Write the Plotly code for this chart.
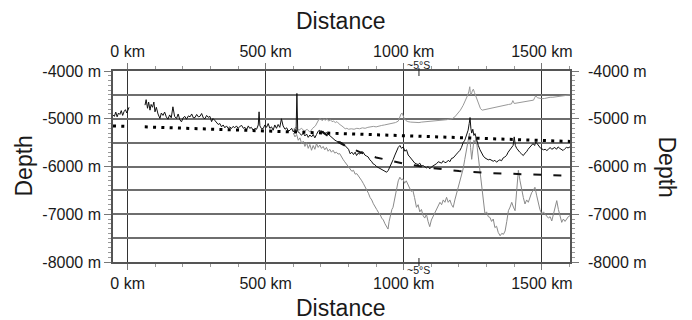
import plotly.graph_objects as go

# ---------------- data ----------------
profile_km = [-53, -48, -43, -38, -33, -28, -23, -18, -13, -8, -3, 2, 5, None,
              63, 67, 72, 76, 81, 85, 90, 95, 99, 104, 110, 117, 122, 128, 134, 140, 146, 152, 158, 164,
              170, 177, 183, 189, 195, 201, 207, 213, 220, 226, 232, 238, 244, 250, 256, 262, 268, 274,
              280, 286, 292, 298, 304, 309, 315, 321, 328, 334, 340, 346, 352, 358, 364, 370, 376, 382,
              388, 394, 400, 407, 413, 419, 425, 431, 437, 442, 448, 455, 461, 467, 473, 476, 479, 485,
              491, 497, 503, 509, 515, 521, 527, 533, 539, 545, 551, 557, 563, 570, 576, 582, 588, 594,
              600, 606, 610, 613, 616, 622, 630, 636, 642, 648, 654, 660, 666, 672, 678, 684, 690, 696,
              702, 708, 714, 720, 727, 733, 739, 745, 751, 757, 763, 769, 775, 781, 787, 793, 800, 806,
              812, 818, 824, 829, 835, 841, 847, 853, 859, 865, 871, 877, 883, 889, 895, 901, 907, 913,
              919, 925, 931, 938, 944, 950, 956, 962, 968, 974, 980, 986, 992, 998, 1004, 1010, 1016,
              1022, 1028, 1034, 1040, 1046, 1052, 1058, 1064, 1070, 1076, 1082, 1088, 1094, 1100, 1107,
              1113, 1119, 1125, 1131, 1137, 1143, 1149, 1155, 1161, 1167, 1173, 1179, 1185, 1191, 1197,
              1203, 1209, 1215, 1221, 1227, 1233, 1237, 1240, 1243, 1246, 1250, 1254, 1258, 1262, 1266,
              1270, 1276, 1282, 1288, 1294, 1300, 1306, 1312, 1318, 1324, 1330, 1336, 1342, 1348, 1354,
              1360, 1366, 1372, 1378, 1384, 1390, 1396, 1400, 1404, 1409, 1414, 1420, 1427, 1433, 1439,
              1445, 1450, 1456, 1462, 1468, 1474, 1478, 1484, 1490, 1496, 1500, 1506, 1512, 1518, 1524,
              1530, 1536, 1541, 1547, 1553, 1559, 1565, 1571, 1577, 1583, 1589, 1595, 1602]
profile_m = [-4920, -4950, -4860, -4960, -4880, -4910, -4830, -4930, -4850, -4810, -4880, -4790, -4760, None,
             -4715, -4600, -4780, -4650, -4820, -4700, -4760, -4650, -4855, -4760, -4900, -4995, -4880, -4930,
             -4860, -4960, -5010, -4920, -4980, -4750, -4950, -4995, -4900, -5020, -5065, -4980, -4950, -5010,
             -4940, -4960, -4900, -4980, -4975, -4910, -4960, -4950, -4890, -4980, -5000, -4930, -4970, -4950,
             -5060, -4995, -5030, -5065, -5120, -5100, -5170, -5130, -5190, -5150, -5200, -5170, -5205, -5160,
             -5190, -5150, -5200, -5160, -5140, -5200, -5180, -5230, -5150, -5200, -5180, -5240, -5200, -5220,
             -5130, -4855, -5150, -5210, -5205, -5130, -5180, -5100, -5200, -5170, -5240, -5130, -5200, -5120,
             -5180, -5000, -5150, -5220, -5190, -5260, -5240, -5200, -5275, -5220, -5260, -4470, -5260, -5300,
             -5345, -5300, -5360, -5320, -5390, -5340, -5380, -5330, -5400, -5330, -5260, -5240, -5280, -5260,
             -5310, -5290, -5330, -5345, -5390, -5420, -5450, -5470, -5490, -5480, -5500, -5520, -5560, -5600,
             -5640, -5735, -5700, -5750, -5700, -5770, -5720, -5740, -5690, -5700, -5760, -5780, -5800, -5860,
             -5890, -5945, -5960, -6000, -6020, -6050, -6070, -6090, -6100, -6120, -6080, -6010, -5945, -5850,
             -5760, -5665, -5600, -5560, -5620, -5590, -5680, -5650, -5760, -5800, -5850, -5890, -5930, -5945,
             -5960, -5930, -5990, -5980, -6010, -6030, -6000, -6050, -6010, -5990, -5960, -5940, -5900, -5910,
             -5930, -5880, -5920, -5910, -5870, -5900, -5830, -5820, -5770, -5740, -5700, -5665, -5600, -5500,
             -5450, -5350, -5240, -5100, -4975, -5200, -5300, -5220, -5350, -5310, -5400, -5480, -5560, -5650,
             -5735, -5780, -5820, -5840, -5860, -5850, -5875, -5890, -5870, -5910, -5880, -5860, -5880, -5820,
             -5800, -5770, -5700, -5650, -5590, -5560, -5380, -5560, -5620, -5665, -5700, -5740, -5770, -5720,
             -5690, -5640, -5600, -5560, -5520, -5560, -5485, -5530, -5580, -5620, -5630, -5650, -5640, -5665,
             -5640, -5600, -5640, -5620, -5600, -5640, -5590, -5620, -5650, -5665, -5630, -5600, -5610, -5590]

upper_km = [600, 610, 620, 630, 640, 650, 660, 670, 680, 686, 692, 698, 704, 710, 716, 722, 728, 734, 740,
            746, 752, 758, 764, 770, 776, 782, 788, 794, 800, 810, 820, 830, 840, 850, 860, 870, 880, 890,
            900, 910, 920, 930, 940, 950, 960, 970, 980, 986, 990, 994, 998, 1002, 1008, 1015, 1025, 1035,
            1045, 1055, 1065, 1075, 1085, 1095, 1105, 1115, 1125, 1135, 1145, 1155, 1165, 1175, 1185, 1195,
            1205, 1215, 1222, 1228, 1232, 1236, 1239, 1241, 1244, 1248, 1252, 1256, 1260, 1264, 1268, 1272,
            1278, 1284, 1292, 1300, 1310, 1320, 1330, 1340, 1350, 1360, 1370, 1380, 1390, 1395, 1400, 1410,
            1420, 1430, 1440, 1450, 1460, 1470, 1474, 1478, 1484, 1490, 1500, 1510, 1520, 1530, 1540, 1550,
            1560, 1570, 1580, 1590, 1602]
upper_m = [-5220, -5180, -5240, -5200, -5260, -5220, -5280, -5200, -5150, -5080, -5020, -5000, -5040, -5010,
           -5030, -5000, -5050, -5020, -5060, -5050, -5080, -5060, -5100, -5130, -5150, -5180, -5210, -5200,
           -5220, -5210, -5220, -5200, -5210, -5190, -5200, -5180, -5170, -5160, -5170, -5150, -5140, -5130,
           -5120, -5110, -5100, -5080, -5050, -4950, -4900, -4880, -4950, -5000, -5040, -5060, -5070, -5075,
           -5070, -5080, -5070, -5065, -5070, -5060, -5050, -5045, -5040, -5030, -5030, -5020, -5010, -5000,
           -4960, -4900, -4820, -4720, -4640, -4560, -4500, -4420, -4330, -4450, -4500, -4420, -4380, -4450,
           -4520, -4560, -4640, -4720, -4790, -4820, -4810, -4800, -4780, -4760, -4750, -4740, -4730, -4720,
           -4710, -4700, -4690, -4620, -4680, -4670, -4660, -4650, -4640, -4640, -4630, -4610, -4560, -4520,
           -4560, -4570, -4580, -4575, -4560, -4550, -4550, -4540, -4530, -4530, -4520, -4510, -4500]

lower_km = [600, 606, 612, 618, 624, 630, 636, 642, 648, 654, 660, 666, 672, 678, 684, 690, 696, 702, 708,
            714, 720, 726, 732, 738, 744, 750, 756, 762, 768, 774, 780, 786, 792, 798, 806, 812, 818, 824,
            830, 836, 842, 848, 854, 860, 866, 872, 878, 884, 890, 896, 902, 908, 914, 920, 926, 932, 938,
            943, 947, 952, 957, 961, 966, 970, 974, 980, 986, 992, 997, 1003, 1009, 1015, 1021, 1027, 1033,
            1039, 1046, 1052, 1058, 1064, 1070, 1076, 1082, 1088, 1094, 1100, 1106, 1113, 1119, 1125, 1131,
            1137, 1143, 1149, 1155, 1161, 1167, 1173, 1179, 1185, 1191, 1197, 1203, 1209, 1215, 1221, 1227,
            1233, 1238, 1242, 1246, 1250, 1254, 1258, 1262, 1266, 1270, 1276, 1282, 1288, 1294, 1300, 1306,
            1312, 1318, 1324, 1330, 1336, 1342, 1349, 1355, 1361, 1367, 1373, 1379, 1385, 1391, 1397, 1403,
            1409, 1415, 1421, 1427, 1433, 1439, 1445, 1451, 1457, 1463, 1469, 1475, 1481, 1487, 1493, 1500,
            1506, 1512, 1518, 1524, 1530, 1536, 1542, 1548, 1554, 1560, 1566, 1572, 1578, 1584, 1590, 1596,
            1602]
lower_m = [-5300, -5380, -5330, -5450, -5400, -5520, -5470, -5580, -5500, -5620, -5540, -5660, -5560, -5640,
           -5520, -5600, -5550, -5620, -5580, -5650, -5600, -5680, -5640, -5700, -5660, -5720, -5700, -5740,
           -5730, -5800, -5850, -5900, -5950, -6000, -6040, -6100, -6080, -6160, -6150, -6200, -6225, -6300,
           -6360, -6420, -6500, -6560, -6650, -6700, -6780, -6855, -6900, -6960, -7000, -7080, -7120, -7200,
           -7280, -7310, -7150, -7000, -6900, -6855, -6700, -6550, -6435, -6300, -6225, -6280, -6260, -6350,
           -6300, -6360, -6450, -6520, -6500, -6650, -6855, -6800, -6950, -6900, -7030, -7080, -7000, -7150,
           -7260, -7120, -7050, -6990, -6900, -6820, -6750, -6800, -6700, -6750, -6645, -6750, -6700, -6800,
           -6855, -6700, -6575, -6450, -6350, -6225, -6050, -5850, -5665, -5450, -5300, -5600, -5850, -5650,
           -5450, -5500, -5380, -5600, -5800, -6080, -6400, -6700, -6990, -6950, -7050, -7065, -7150, -7100,
           -7280, -7250, -7380, -7450, -7400, -7420, -7350, -7150, -6925, -6850, -6750, -6850, -6925, -6500,
           -6080, -6300, -6505, -6650, -6785, -6700, -6750, -6645, -6550, -6500, -6435, -6600, -6785, -6900,
           -6995, -6950, -7000, -7030, -7080, -7050, -7140, -7000, -6850, -6715, -6900, -7050, -7170, -7100,
           -7150, -7100, -7050, -7030]

dotted_km = [-53, -5, None, 62, 500, 1000, 1602]
dotted_m = [-5150, -5160, None, -5170, -5250, -5355, -5475]

dashed_km = [700, 750, 800, 850, 900, 950, 1000, 1100, 1200, 1300, 1400, 1500, 1602]
dashed_m = [-5260, -5450, -5600, -5720, -5810, -5880, -5940, -6030, -6095, -6135, -6160, -6180, -6195]

x_tick_vals = [0, 500, 1000, 1500]
x_tick_text = ["0 km", "500 km", "1000 km", "1500 km"]
y_tick_vals = [-8000, -7000, -6000, -5000, -4000]
y_tick_text = ["-8000 m", "-7000 m", "-6000 m", "-5000 m", "-4000 m"]
x_range = [-53, 1602]
y_range = [-8000, -4000]
lat_mark_km = 1055
lat_mark_text = "~5°S"

FONT = "Liberation Sans, Arial, Helvetica, sans-serif"
TXT = "#1a1a1a"

fig = go.Figure()
# empty trace that activates the half-kilometre grid axis (drawn underneath everything)
fig.add_trace(go.Scatter(x=[], y=[], xaxis="x", yaxis="y3", hoverinfo="skip"))
fig.add_trace(go.Scatter(x=upper_km, y=upper_m, mode="lines",
                         line=dict(color="#999999", width=1), hoverinfo="skip"))
fig.add_trace(go.Scatter(x=lower_km, y=lower_m, mode="lines",
                         line=dict(color="#8a8a8a", width=1), hoverinfo="skip"))
fig.add_trace(go.Scatter(x=profile_km, y=profile_m, mode="lines", connectgaps=False,
                         line=dict(color="#111111", width=1), hoverinfo="skip"))
fig.add_trace(go.Scatter(x=dotted_km, y=dotted_m, mode="lines", connectgaps=False,
                         line=dict(color="#000000", width=3, dash="3px,5.3px"), hoverinfo="skip"))
fig.add_trace(go.Scatter(x=dashed_km, y=dashed_m, mode="lines",
                         line=dict(color="#111111", width=2, dash="8px,12px"), hoverinfo="skip"))
# empty trace to activate the mirrored axes
fig.add_trace(go.Scatter(x=[], y=[], xaxis="x2", yaxis="y2", hoverinfo="skip"))

tickfont = dict(family=FONT, size=16, color=TXT)
common_x = dict(range=x_range, tickmode="array", tickvals=x_tick_vals, ticktext=x_tick_text,
                ticks="outside", ticklen=6, tickcolor="#777", tickfont=tickfont, automargin=False,
                showline=True, linecolor="#555", linewidth=1.5, zeroline=False,
                minor=dict(tickmode="linear", tick0=0, dtick=100, ticks="outside", ticklen=3,
                           tickcolor="#999", showgrid=False))
common_y = dict(range=y_range, tickmode="array", tickvals=y_tick_vals, ticktext=y_tick_text,
                ticks="outside", ticklen=7, tickcolor="#777", tickfont=tickfont, automargin=False,
                showline=True, linecolor="#555", linewidth=1.5, zeroline=False,
                minor=dict(tickmode="linear", tick0=0, dtick=100, ticks="outside", ticklen=3,
                           tickcolor="#999", showgrid=False))

# page body adds an 8px offset, so the figure is 8px smaller and shifted accordingly
fig.update_layout(
    width=684, height=312,
    margin=dict(l=105, r=122, t=63, b=58),
    paper_bgcolor="white", plot_bgcolor="white",
    showlegend=False,
    xaxis=dict(**common_x, side="bottom", showgrid=True, gridcolor="#333", gridwidth=1),
    xaxis2=dict(**common_x, side="top", overlaying="x", anchor="y", showgrid=False),
    yaxis=dict(**common_y, side="left", showgrid=False),
    yaxis2=dict(**common_y, side="right", overlaying="y", anchor="x", showgrid=False,
                ticklabelstandoff=6),
    yaxis3=dict(range=y_range, overlaying="y", anchor="x", side="left", tickmode="linear",
                tick0=0, dtick=500, showgrid=True, gridcolor="#6e6e6e", gridwidth=1.5,
                showticklabels=False, ticks="", zeroline=False, showline=False, automargin=False),
    annotations=[
        dict(text="Distance", xref="paper", yref="paper", x=0.497, y=1, yshift=50, yanchor="middle",
             showarrow=False, font=dict(family=FONT, size=23, color=TXT)),
        dict(text="Distance", xref="paper", yref="paper", x=0.497, y=0, yshift=-46, yanchor="middle",
             showarrow=False, font=dict(family=FONT, size=23, color=TXT)),
        dict(text="Depth", xref="paper", yref="paper", x=0, xshift=-90, y=0.5, xanchor="center",
             yanchor="middle", textangle=-90, showarrow=False, font=dict(family=FONT, size=23, color=TXT)),
        dict(text="Depth", xref="paper", yref="paper", x=1, xshift=97, y=0.5, xanchor="center",
             yanchor="middle", textangle=90, showarrow=False, font=dict(family=FONT, size=23, color=TXT)),
        dict(text=lat_mark_text, xref="x", yref="paper", x=lat_mark_km, y=1, yshift=6,
             yanchor="middle", showarrow=False, font=dict(family=FONT, size=10.5, color=TXT)),
        dict(text=lat_mark_text, xref="x", yref="paper", x=lat_mark_km, y=0, yshift=-8,
             yanchor="middle", showarrow=False, font=dict(family=FONT, size=10.5, color=TXT)),
    ],
    shapes=[
        dict(type="line", xref="x", yref="paper", x0=lat_mark_km, x1=lat_mark_km,
             ysizemode="pixel", yanchor=1, y0=-5, y1=3, line=dict(color="#222", width=1)),
        dict(type="line", xref="x", yref="paper", x0=lat_mark_km, x1=lat_mark_km,
             ysizemode="pixel", yanchor=0, y0=4, y1=-4, line=dict(color="#222", width=1)),
    ],
)
fig.write_html("out.html")
